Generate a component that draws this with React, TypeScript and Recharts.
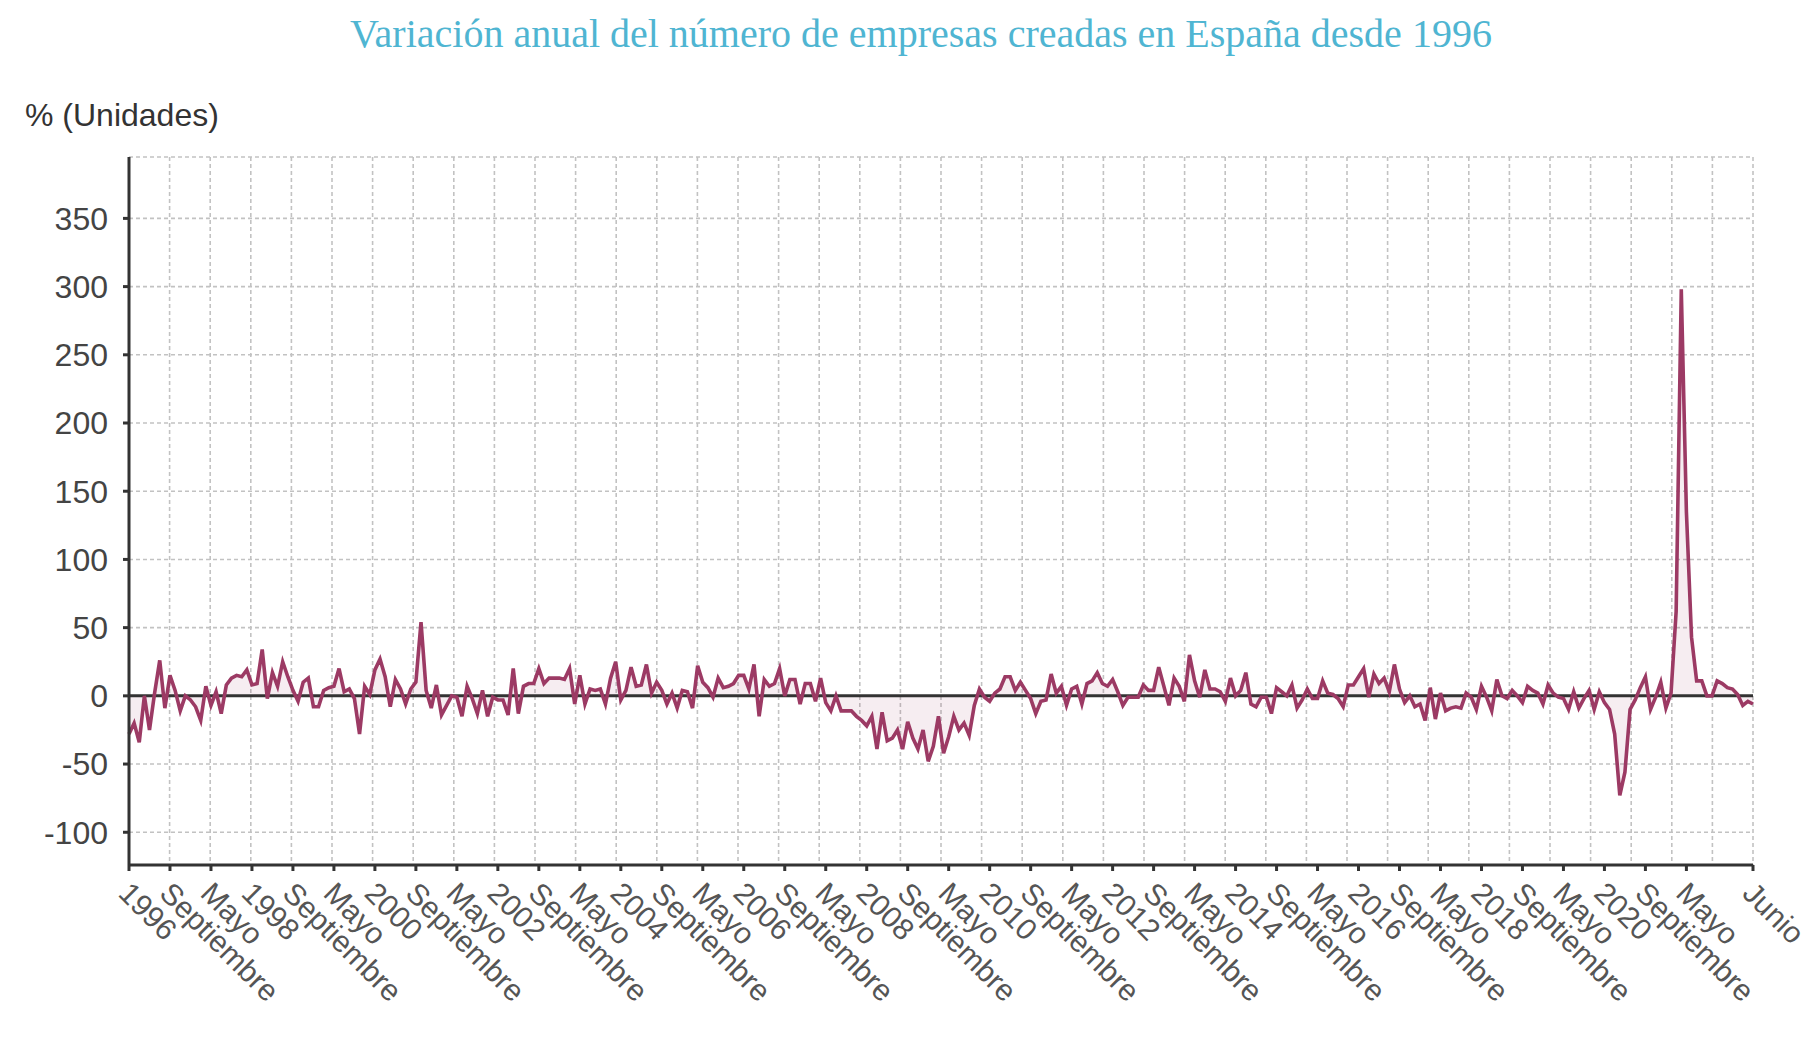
import React from 'react';
import { ComposedChart, Area, Line, XAxis, YAxis, CartesianGrid, ReferenceLine } from 'recharts';

// variación anual (%) del número de sociedades creadas, mes a mes desde enero 1996
const v1996_1999 = [
  -28, -20, -34, 0, -25, 2, 26, -9, 15, 4, -11, 0,
  -3, -8, -18, 7, -7, 3, -13, 8, 13, 15, 14, 19,
  8, 9, 34, -2, 17, 7, 25, 14, 4, -4, 10, 13,
  -8, -8, 4, 6, 7, 20, 3, 5, -2, -28, 7, 1,
];
const v2000_2003 = [
  19, 27, 14, -8, 12, 5, -6, 5, 10, 54, 4, -9,
  8, -14, -7, 0, -1, -15, 7, -2, -13, 4, -15, -1,
  -3, -3, -14, 20, -13, 7, 9, 9, 20, 9, 13, 13,
  13, 12, 20, -6, 15, -6, 5, 4, 5, -6, 13, 25,
];
const v2004_2007 = [
  -3, 4, 21, 7, 8, 23, 2, 10, 4, -6, 2, -9,
  4, 3, -9, 22, 10, 6, -1, 13, 6, 7, 9, 15,
  15, 5, 23, -15, 12, 7, 9, 20, 0, 12, 12, -6,
  9, 9, -4, 13, -5, -11, 0, -11, -11, -11, -15, -18,
];
const v2008_2011 = [
  -22, -15, -39, -12, -33, -31, -25, -39, -19, -31, -39, -25,
  -48, -37, -15, -42, -30, -15, -25, -20, -29, -7, 5, -1,
  -4, 2, 5, 14, 14, 4, 10, 4, -2, -13, -4, -3,
  16, 2, 7, -7, 5, 7, -6, 9, 11, 17, 9, 7,
];
const v2012_2015 = [
  12, 3, -7, -1, -1, -1, 8, 4, 4, 21, 7, -7,
  13, 7, -4, 30, 11, -1, 19, 5, 5, 3, -4, 13,
  0, 4, 17, -6, -8, -1, -1, -13, 6, 3, 0, 8,
  -9, -3, 5, -2, -2, 11, 2, 1, -2, -8, 8, 8,
];
const v2016_2019 = [
  14, 20, -1, 16, 9, 13, 3, 23, 5, -5, 0, -8,
  -6, -18, 6, -17, 2, -11, -9, -8, -9, 2, -1, -10,
  7, -1, -11, 12, 0, -2, 4, 0, -5, 7, 4, 2,
  -6, 8, 2, -1, -2, -10, 3, -9, -2, 4, -10, 3,
];
const v2020_2022 = [
  -5, -10, -28, -73, -56, -10, -3, 6, 14, -10, -1, 10,
  -9, 2, 62, 298, 135, 43, 11, 11, 0, 0, 11, 9,
  6, 5, 1, -7, -4, -6,
];

const meses = [
  'Enero', 'Febrero', 'Marzo', 'Abril', 'Mayo', 'Junio',
  'Julio', 'Agosto', 'Septiembre', 'Octubre', 'Noviembre', 'Diciembre',
];
const anioInicio = 1996;
const yTicks = [-100, -50, 0, 50, 100, 150, 200, 250, 300, 350];

const valores = [
  ...v1996_1999, ...v2000_2003, ...v2004_2007, ...v2008_2011,
  ...v2012_2015, ...v2016_2019, ...v2020_2022,
];

const data = valores.map((valor, i) => ({ i, valor }));

// una marca cada 8 meses (sin pisar la última) y la del último mes
const ultimo = valores.length - 1;
const xTicks = [
  ...data.filter((d) => d.i % 8 === 0 && ultimo - d.i >= 8).map((d) => d.i),
  ultimo,
];

const etiquetaMes = (i: number) => {
  const mes = i % 12;
  return mes === 0 ? String(anioInicio + Math.floor(i / 12)) : meses[mes];
};

const colorLinea = '#9c3a64';
const fuente = '"Liberation Sans", Arial, Helvetica, sans-serif';

const TickRotado = (props: any) => {
  const { x, y, payload } = props;
  const tx = x - 12;
  const ty = y + 22;
  return (
    <text
      x={tx}
      y={ty}
      transform={`rotate(45, ${tx}, ${ty})`}
      textAnchor="start"
      fill="#555"
      fontSize={30}
      fontFamily={fuente}
    >
      {etiquetaMes(payload.value)}
    </text>
  );
};

const rejillaVertical = ({ offset }: any) =>
  Array.from({ length: 41 }, (_, k) => offset.left + (k * offset.width) / 40);

export default function App() {
  return (
    <div style={{ position: 'relative', width: 1804, height: 1034 }}>
      <div
        style={{
          position: 'absolute',
          left: 913,
          top: 6,
          transform: 'translateX(-50%)',
          whiteSpace: 'nowrap',
          fontFamily: '"Liberation Serif", "Times New Roman", serif',
          fontSize: 40,
          lineHeight: '40px',
          color: '#4fb5d2',
        }}
      >
        Variación anual del número de empresas creadas en España desde 1996
      </div>
      <div
        style={{
          position: 'absolute',
          left: 17,
          top: 91,
          fontFamily: fuente,
          fontSize: 32,
          lineHeight: '32px',
          color: '#333',
          whiteSpace: 'nowrap',
        }}
      >
        % (Unidades)
      </div>
      <ComposedChart
        width={1804}
        height={1034}
        data={data}
        margin={{ top: 149, right: 59, left: 0, bottom: 0 }}
        style={{ overflow: 'visible' }}
      >
        <CartesianGrid
          stroke="#c2c2c2"
          strokeWidth={1.6}
          strokeDasharray="4 3"
          verticalCoordinatesGenerator={rejillaVertical}
        />
        <XAxis
          dataKey="i"
          type="number"
          domain={[0, ultimo]}
          ticks={xTicks}
          interval={0}
          height={177}
          tickSize={6}
          tick={<TickRotado />}
          axisLine={{ stroke: '#333', strokeWidth: 3 }}
          tickLine={{ stroke: '#333', strokeWidth: 3 }}
        />
        <YAxis
          type="number"
          domain={[-124, 395]}
          ticks={yTicks}
          interval={0}
          width={121}
          tickSize={6}
          tickMargin={15}
          tick={{ fill: '#444', fontSize: 32, fontFamily: fuente }}
          axisLine={{ stroke: '#333', strokeWidth: 3 }}
          tickLine={{ stroke: '#333', strokeWidth: 3 }}
        />
        <Area
          type="linear"
          dataKey="valor"
          stroke="none"
          fill={colorLinea}
          fillOpacity={0.09}
          baseValue={0}
          isAnimationActive={false}
        />
        <ReferenceLine y={0} stroke="#333" strokeWidth={3} />
        <Line
          type="linear"
          dataKey="valor"
          stroke={colorLinea}
          strokeWidth={3.6}
          dot={false}
          activeDot={false}
          isAnimationActive={false}
        />
      </ComposedChart>
    </div>
  );
}
